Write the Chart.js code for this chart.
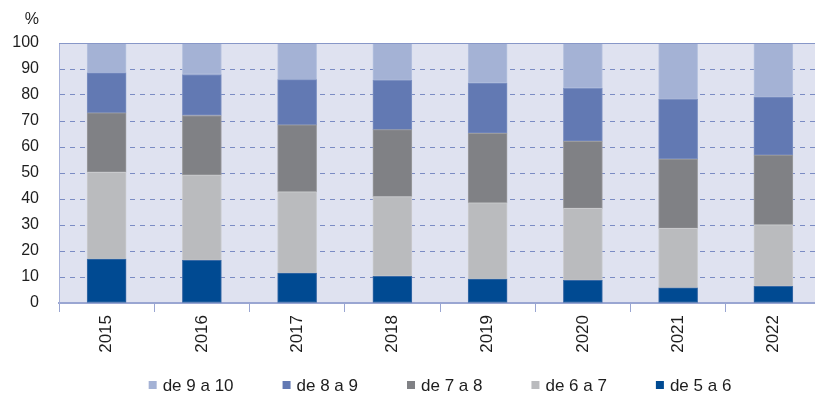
<!DOCTYPE html>
<html>
<head>
<meta charset="utf-8">
<script src="https://cdn.jsdelivr.net/npm/chart.js@4/dist/chart.umd.min.js"></script>
<style>
  html, body { margin: 0; padding: 0; background: #ffffff; overflow: hidden; }
  #wrap { width: 824px; height: 394px; }
</style>
</head>
<body>
<div id="wrap"><canvas id="c" width="824" height="394"></canvas></div>
<script>
// Years on the category axis
const years = ['2015', '2016', '2017', '2018', '2019', '2020', '2021', '2022'];

// Share (%) per band, stacked from the bottom up
const de5a6  = [16.9, 16.4, 11.5, 10.3,  9.2,  8.7,  5.8,  6.4];
const de6a7  = [33.4, 32.8, 31.3, 30.6, 29.3, 27.7, 22.9, 23.7];
const de7a8  = [22.8, 22.9, 25.7, 25.8, 26.8, 25.8, 26.7, 26.8];
const de8a9  = [15.4, 15.8, 17.4, 18.9, 19.3, 20.4, 22.9, 22.3];
const de9a10 = [11.5, 12.1, 14.1, 14.4, 15.4, 17.4, 21.7, 20.8];

// Band names
const bandLabels = ['de 5 a 6', 'de 6 a 7', 'de 7 a 8', 'de 8 a 9', 'de 9 a 10'];

// Y axis tick values
const yTicks = [0, 10, 20, 30, 40, 50, 60, 70, 80, 90, 100];

const colors  = ['#004a92', '#babbbe', '#808185', '#6279b3', '#a4b2d5'];
const edges   = ['#3a6aa6', '#c9cacd', '#9a9b9e', '#7d91c2', '#b6c2df'];
const FONT = '"Liberation Sans", Arial, sans-serif';
const TEXT = '#1e1e1e';

const series = [de5a6, de6a7, de7a8, de8a9, de9a10];

const datasets = series.map((vals, i) => ({
  label: bandLabels[i],
  data: vals,
  backgroundColor: colors[i],
  borderColor: edges[i],
  borderWidth: 1,
  borderSkipped: false,
  barThickness: 39,
  stack: 's'
}));

// Plot background, top frame line, unit label and the legend row
const decor = {
  id: 'decor',
  beforeDraw(chart) {
    const { ctx, chartArea: a } = chart;
    ctx.save();
    ctx.fillStyle = '#dfe2f0';
    ctx.fillRect(a.left, a.top, a.right - a.left, a.bottom - a.top);
    ctx.restore();
  },
  afterDraw(chart) {
    const { ctx, chartArea: a } = chart;
    ctx.save();
    // top frame
    ctx.strokeStyle = '#8797c8';
    ctx.lineWidth = 1;
    ctx.beginPath();
    ctx.moveTo(a.left, a.top + 0.5);
    ctx.lineTo(a.right, a.top + 0.5);
    ctx.stroke();

    // unit
    ctx.fillStyle = TEXT;
    ctx.font = '16px ' + FONT;
    ctx.textAlign = 'right';
    ctx.textBaseline = 'middle';
    ctx.fillText('%', 39, 20);

    // legend, top band first
    ctx.font = '17px ' + FONT;
    ctx.textAlign = 'left';
    const order = [4, 3, 2, 1, 0];
    const box = 8, gapText = 6, gapItem = 49;
    const widths = order.map(i => box + gapText + ctx.measureText(bandLabels[i]).width);
    const total = widths.reduce((s, w) => s + w, 0) + gapItem * (order.length - 1);
    let x = (a.left + a.right) / 2 - total / 2;
    const y = 385;
    order.forEach((i, k) => {
      ctx.fillStyle = colors[i];
      ctx.fillRect(x, y - box / 2, box, box);
      ctx.fillStyle = TEXT;
      ctx.fillText(bandLabels[i], x + box + gapText, y + 1);
      x += widths[k] + gapItem;
    });
    ctx.restore();
  }
};

new Chart(document.getElementById('c'), {
  type: 'bar',
  data: { labels: years, datasets },
  options: {
    responsive: false,
    animation: false,
    layout: { padding: { top: 43, right: 3, left: 0, bottom: 0 } },
    plugins: {
      legend: { display: false },
      tooltip: { enabled: false }
    },
    scales: {
      x: {
        stacked: true,
        offset: true,
        grid: {
          offset: true,
          drawOnChartArea: false,
          drawTicks: true,
          tickLength: 9,
          color: '#9aa6d2',
          lineWidth: 1
        },
        border: { display: true, color: '#9aa6d2', width: 2 },
        ticks: {
          minRotation: 90,
          maxRotation: 90,
          padding: 3,
          color: TEXT,
          font: { family: FONT, size: 17 }
        },
        afterFit(scale) { scale.height = 91; }
      },
      y: {
        stacked: true,
        min: 0,
        max: 100,
        afterBuildTicks(scale) { scale.ticks = yTicks.map(v => ({ value: v })); },
        grid: {
          drawTicks: false,
          color: ctx => (ctx.tick && (ctx.tick.value === 0 || ctx.tick.value === 100)) ? 'rgba(0,0,0,0)' : '#7b8cc4',
          lineWidth: 1
        },
        border: { display: true, color: '#a6b0d8', width: 1, dash: [5, 5] },
        ticks: {
          padding: 20,
          color: TEXT,
          font: { family: FONT, size: 16 }
        },
        afterFit(scale) { scale.width = 59; }
      }
    }
  },
  plugins: [decor]
});
</script>
</body>
</html>
